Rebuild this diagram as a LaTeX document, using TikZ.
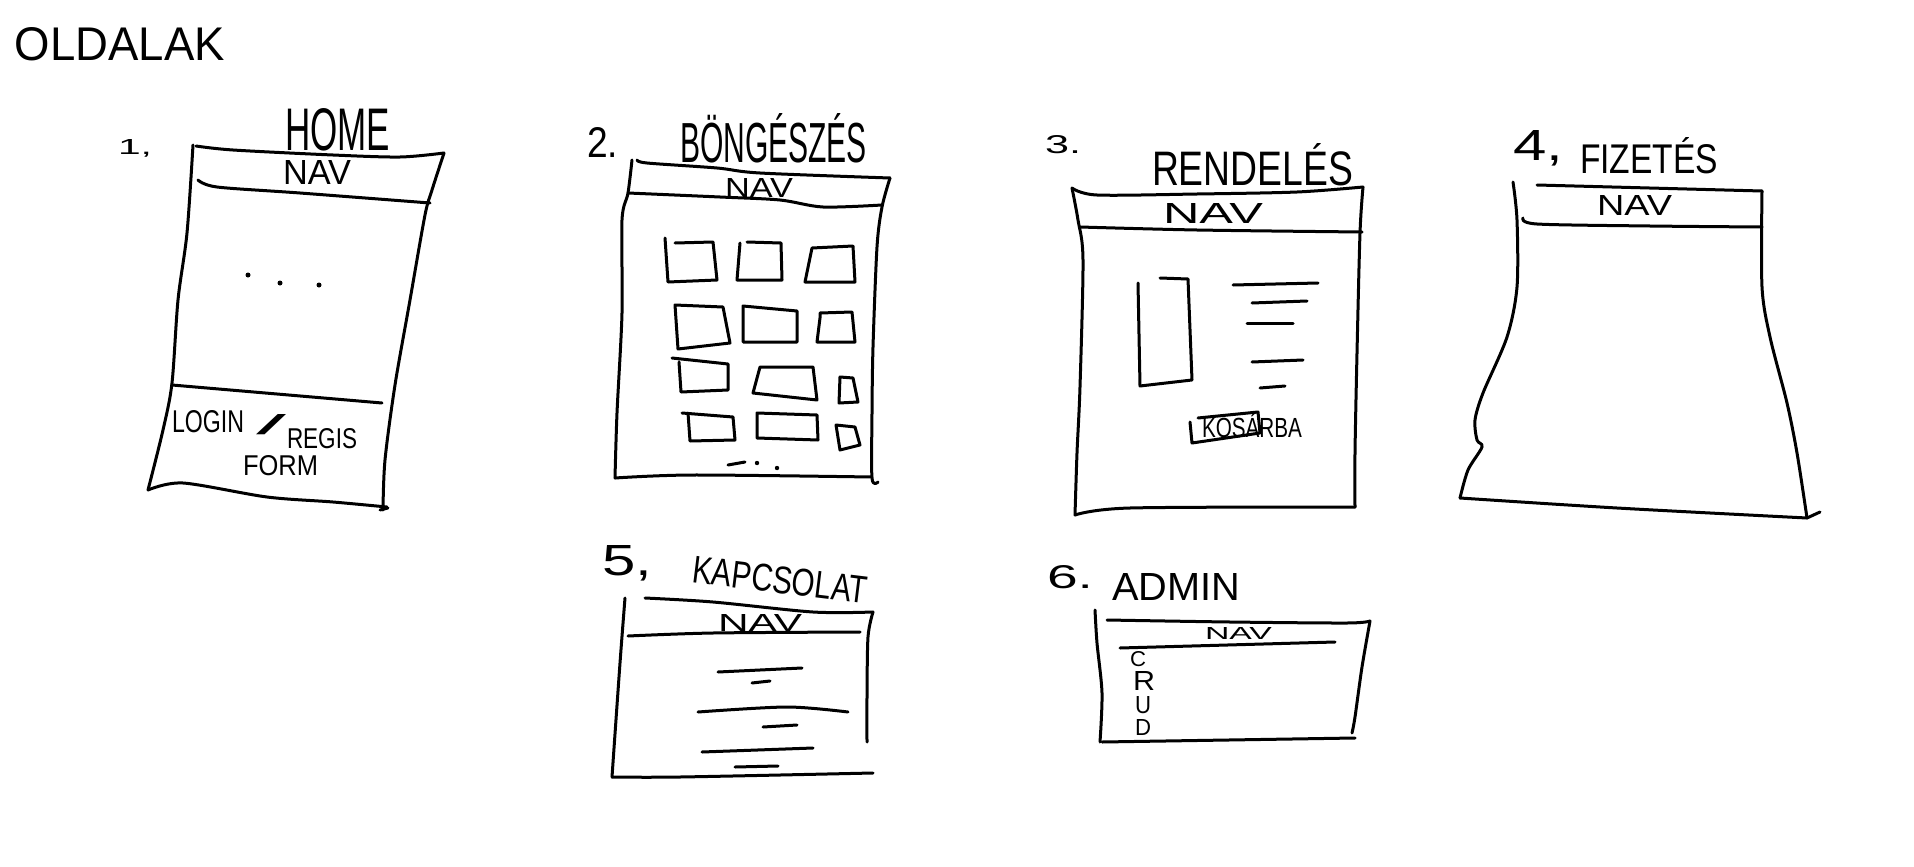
\documentclass[tikz,border=0pt]{standalone}
\usepackage{fontspec}
\usepackage{graphicx}
\setmainfont{Liberation Sans}
% hand lettering: text squeezed into a given width and cap height (in pt)
\newcommand\handtext[3]{\resizebox{#1pt}{#2pt}{#3}}
\begin{document}
\begin{tikzpicture}[x=1pt,y=-1pt,
  pen/.style={line width=3pt, line cap=round, line join=round},
  hand/.style={anchor=north west, inner sep=0pt, outer sep=0pt}]
\useasboundingbox (0,0) rectangle (1914,867);
\fill[white] (0,0) rectangle (1914,867);

% ---------- title ----------
\node[hand] (title) at (15,27) {\handtext{210}{33}{OLDALAK}};

% ---------- 1. HOME ----------
\node[hand] (n1) at (118,139) {\handtext{34}{15}{1,}};
\node[hand] (home) at (285,108) {\handtext{105}{42}{HOME}};
\draw[pen] plot[smooth,tension=0.5] coordinates {(196,146) (233,150) (333,155) (400,157) (444,153)};
\draw[pen] plot[smooth,tension=0.5] coordinates {(444,153) (432,190) (425,215) (410,300) (395,385) (385,460) (383,510)};
\draw[pen] plot[smooth,tension=0.5] coordinates {(193,145) (187,233) (178,300) (172,383) (163,430) (148,490)};
\draw[pen] plot[smooth,tension=0.5] coordinates {(148,490) (183,483) (267,497) (333,502) (387,507)};
\draw[pen] (380,510) -- (388,508);
\draw[pen] plot[smooth,tension=0.5] coordinates {(198,180) (217,187) (300,193) (430,203)};
\node[hand] (nav1) at (283,160) {\handtext{68}{24}{NAV}};
\fill (248,275) circle (2.5) (280,283) circle (2.5) (319,285) circle (2.5);
\draw[pen] (172,385) -- (382,403);
\node[hand] (login) at (172,410) {\handtext{72}{22}{LOGIN}};
\node[hand] (slash) at (256,414) {\handtext{30}{20}{/}};
\node[hand] (regis) at (287,428) {\handtext{70}{20}{REGIS}};
\node[hand] (form) at (243,455) {\handtext{75}{20}{FORM}};

% ---------- 2. BÖNGÉSZÉS ----------
\node[hand] (n2) at (587,127) {\handtext{31}{30}{2.}};
\node[hand] (browse) at (680,113) {\handtext{187}{49}{BÖNGÉSZÉS}};
\draw[pen] plot[smooth,tension=0.5] coordinates {(637,160) (647,163) (717,168) (760,173) (890,178)};
\draw[pen] plot[smooth,tension=0.5] coordinates {(632,160) (628,193) (622,220) (622,313) (617,413) (615,478)};
\draw[pen] plot[smooth,tension=0.5] coordinates {(890,178) (882,207) (877,247) (873,347) (872,413) (872,478) (878,482)};
\draw[pen] plot[smooth,tension=0.5] coordinates {(615,478) (693,475) (872,477)};
\draw[pen] plot[smooth,tension=0.5] coordinates {(628,193) (720,197) (780,200) (823,207) (882,205)};
\node[hand] (nav2) at (725,178) {\handtext{68}{19}{NAV}};
% product tiles
\draw[pen] (675,243) -- (713,242) -- (717,280) -- (668,282) -- (665,238);
\draw[pen] (747,242) -- (781,243) -- (782,280) -- (737,280) -- (740,243);
\draw[pen] (812,248) -- (853,246) -- (855,282) -- (805,282) -- cycle;
\draw[pen] (675,305) -- (723,307) -- (730,343) -- (678,349) -- cycle;
\draw[pen] (743,306) -- (797,311) -- (797,342) -- (743,342) -- cycle;
\draw[pen] (820,318) -- (820,313) -- (852,312) -- (855,342) -- (817,342) -- (820,318);
\draw[pen] (672,358) -- (728,364) -- (728,390) -- (681,392) -- (679,362);
\draw[pen] (760,367) -- (813,367) -- (817,400) -- (753,393) -- cycle;
\draw[pen] (840,377) -- (853,378) -- (858,402) -- (839,403) -- cycle;
\draw[pen] (682,413) -- (733,417) -- (735,440) -- (690,441) -- (688,413);
\draw[pen] (757,413) -- (817,415) -- (818,440) -- (757,438) -- cycle;
\draw[pen] (836,425) -- (855,427) -- (860,445) -- (840,450) -- cycle;
\draw[pen] (728,465) -- (745,462);
\fill (757,463) circle (2.2) (777,468) circle (2.2);

% ---------- 3. RENDELÉS ----------
\node[hand] (n3) at (1045,135) {\handtext{36}{18}{3.}};
\node[hand] (order) at (1152,143) {\handtext{201}{42}{RENDELÉS}};
\draw[pen] plot[smooth,tension=0.5] coordinates {(1072,188) (1097,195) (1197,194) (1297,192) (1363,187)};
\draw[pen] plot[smooth,tension=0.5] coordinates {(1072,188) (1078,220) (1083,260) (1080,387) (1077,453) (1075,515)};
\draw[pen] plot[smooth,tension=0.5] coordinates {(1363,187) (1360,233) (1357,353) (1355,453) (1355,507)};
\draw[pen] plot[smooth,tension=0.5] coordinates {(1075,515) (1130,508) (1355,507)};
\draw[pen] plot[smooth,tension=0.5] coordinates {(1080,227) (1197,230) (1362,232)};
\node[hand] (nav3) at (1163,203) {\handtext{100}{20}{NAV}};
\draw[pen] (1160,278) -- (1188,279) -- (1192,380) -- (1140,386) -- (1138,283);
\draw[pen] (1233,285) -- (1318,283);
\draw[pen] (1252,303) -- (1307,301);
\draw[pen] (1247,323) -- (1293,323);
\draw[pen] (1252,362) -- (1303,360);
\draw[pen] (1260,388) -- (1285,386);
\draw[pen] (1190,422) -- (1192,443) -- (1260,433) -- (1258,412) -- (1198,418);
\node[hand] (cart) at (1202,413) {\handtext{100}{24}{KOSÁRBA}};

% ---------- 4. FIZETÉS ----------
\node[hand] (n4) at (1513,130) {\handtext{50}{30}{4,}};
\node[hand] (pay) at (1580,137) {\handtext{138}{36}{FIZETÉS}};
\draw[pen] plot[smooth,tension=0.5] coordinates {(1513,182) (1517,220) (1517,287) (1507,337) (1483,393) (1475,420) (1477,440) (1482,447) (1468,470) (1460,498)};
\draw[pen] plot[smooth,tension=0.5] coordinates {(1460,498) (1617,508) (1807,518)};
\draw[pen] (1807,518) -- (1820,512);
\draw[pen] plot[smooth,tension=0.5] coordinates {(1762,191) (1762,287) (1770,337) (1787,403) (1797,453) (1807,518)};
\draw[pen] (1537,185) -- (1762,191);
\draw[pen] plot[smooth,tension=0.5] coordinates {(1523,218) (1537,224) (1650,226) (1762,227)};
\node[hand] (nav4) at (1597,195) {\handtext{75}{20}{NAV}};

% ---------- 5. KAPCSOLAT ----------
\node[hand] (n5) at (602,545) {\handtext{50}{30}{5,}};
\node[inner sep=0pt, rotate=-7] (contact) at (780,580) {\handtext{176}{27}{KAPCSOLAT}};
\draw[pen] plot[smooth,tension=0.5] coordinates {(625,598) (620,663) (612,777)};
\draw[pen] plot[smooth,tension=0.5] coordinates {(645,598) (713,602) (813,612) (873,612)};
\draw[pen] plot[smooth,tension=0.5] coordinates {(873,612) (868,637) (867,697) (867,742)};
\draw[pen] plot[smooth,tension=0.5] coordinates {(612,777) (680,777) (873,773)};
\draw[pen] plot[smooth,tension=0.5] coordinates {(628,636) (713,633) (860,632)};
\node[hand] (nav5) at (718,614) {\handtext{84}{17}{NAV}};
\draw[pen] (718,672) -- (802,668);
\draw[pen] (752,683) -- (770,681);
\draw[pen] plot[smooth,tension=0.5] coordinates {(698,712) (787,707) (848,712)};
\draw[pen] (763,727) -- (797,725);
\draw[pen] (702,752) -- (813,748);
\draw[pen] (735,767) -- (778,766);

% ---------- 6. ADMIN ----------
\node[hand] (n6) at (1047,565) {\handtext{46}{23}{6.}};
\node[hand] (admin) at (1112,573) {\handtext{128}{27}{ADMIN}};
\draw[pen] plot[smooth,tension=0.5] coordinates {(1095,610) (1097,643) (1102,693) (1100,742)};
\draw[pen] plot[smooth,tension=0.5] coordinates {(1107,620) (1230,622) (1347,623) (1370,621)};
\draw[pen] plot[smooth,tension=0.5] coordinates {(1370,621) (1362,667) (1355,717) (1352,733)};
\draw[pen] (1102,742) -- (1355,738);
\draw[pen] (1120,648) -- (1335,642);
\node[hand] (nav6) at (1205,627) {\handtext{67}{12}{NAV}};
\node[hand] (crudc) at (1130,651) {\handtext{16}{15}{C}};
\node[hand] (crudr) at (1133,671) {\handtext{22}{19}{R}};
\node[hand] (crudu) at (1135,696) {\handtext{16}{17}{U}};
\node[hand] (crudd) at (1135,719) {\handtext{16}{16}{D}};
\end{tikzpicture}
\end{document}
